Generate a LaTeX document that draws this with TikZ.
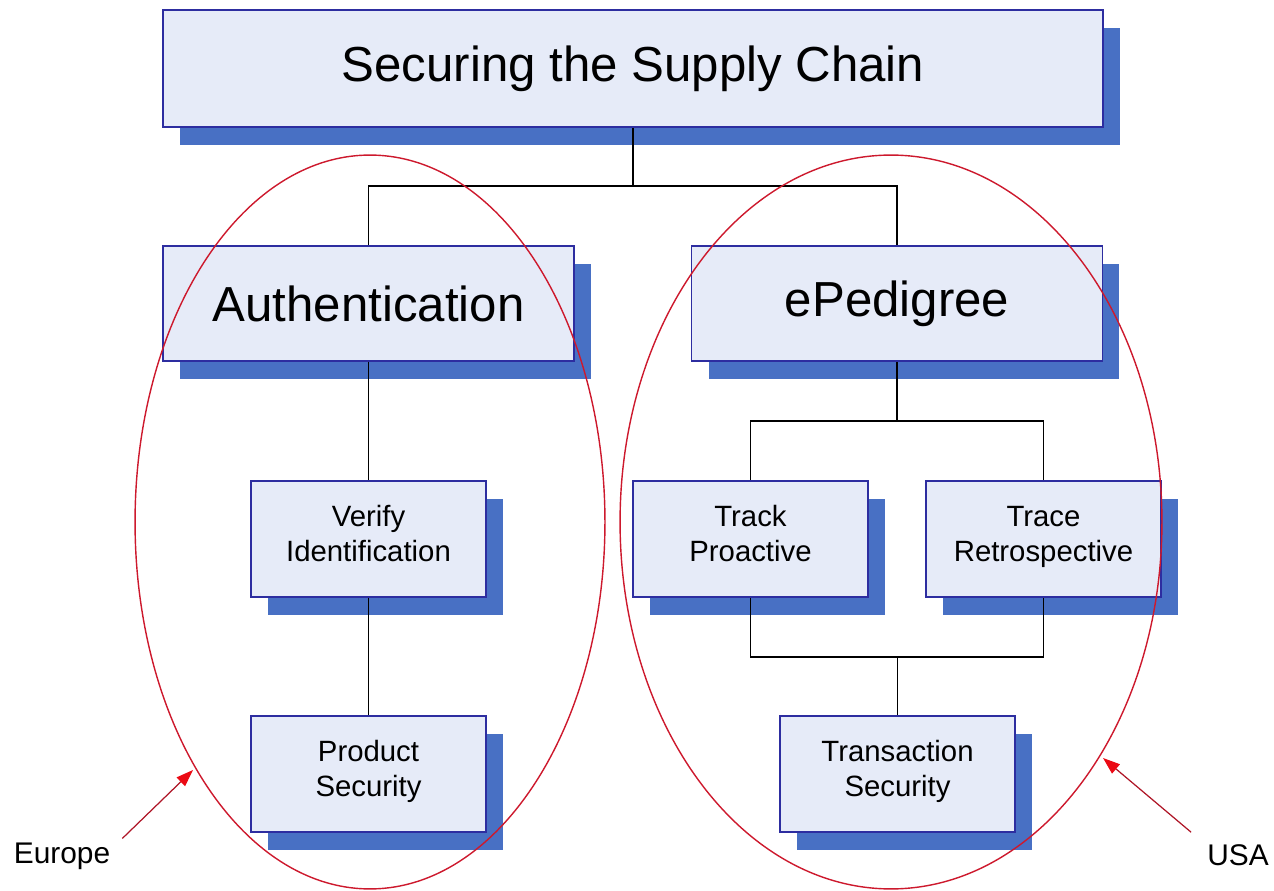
\documentclass[tikz,border=0pt]{standalone}
\usepackage{fontspec}
\setmainfont{Liberation Sans}
\usetikzlibrary{arrows.meta,shadows}

\definecolor{boxfill}{RGB}{230,235,248}
\definecolor{boxline}{RGB}{45,45,160}
\definecolor{shadowblue}{RGB}{72,112,196}
\definecolor{ringred}{RGB}{205,25,45}
\definecolor{tipred}{RGB}{235,10,20}

\begin{document}
\begin{tikzpicture}[x=0.02cm,y=-0.02cm,
  box/.style={draw=boxline,line width=1pt,fill=boxfill,inner sep=0pt,align=center,
    general shadow={fill=shadowblue,shadow xshift=0.34cm,shadow yshift=-0.36cm}},
  bigbox/.style={box,minimum width=8.22cm,minimum height=2.3cm,font=\fontsize{28}{32}\selectfont},
  smallbox/.style={box,minimum width=4.7cm,minimum height=2.32cm,font=\fontsize{16.7}{20}\selectfont,
    execute at begin node=\strut,execute at end node=\strut},
  link/.style={line width=1.1pt},
  ring/.style={draw=ringred,line width=0.8pt},
  pointer/.style={draw=ringred!85!black,line width=0.7pt,
    -{Triangle[length=0.34cm,width=0.24cm,color=tipred]}},
  region/.style={font=\fontsize{17}{20}\selectfont}]
  \useasboundingbox (0,0) rectangle (1274,891);

  % boxes
  \node[box,minimum width=18.8cm,minimum height=2.34cm,font=\fontsize{28}{32}\selectfont] (top) at (633,68.5) {Securing the Supply Chain};
  \node[bigbox] (auth) at (368.5,303.5) {Authentication};
  \node[bigbox] (eped) at (897,303.5) {ePedigree};
  \node[smallbox] (verify) at (368.5,539) {Verify\\Identification};
  \node[smallbox] (prod) at (368.5,774) {Product\\Security};
  \node[smallbox] (track) at (750.5,539) {Track\\Proactive};
  \node[smallbox] (trace) at (1043.5,539) {Trace\\Retrospective};
  \node[smallbox] (trans) at (897.5,774) {Transaction\\Security};

  % connectors
  \coordinate (j1) at (633,186);
  \coordinate (j2) at (897,421);
  \coordinate (j3) at (897.5,657);
  \draw[link] (top.south) -- (j1) -| (auth.north);
  \draw[link] (j1) -| (eped.north);
  \draw[link] (auth) -- (verify);
  \draw[link] (verify) -- (prod);
  \draw[link] (eped.south) -- (j2) -| (track.north);
  \draw[link] (j2) -| (trace.north);
  \draw[link] (track.south) |- (j3) -| (trace.south);
  \draw[link] (j3) -- (trans.north);

  % regions
  \draw[ring] (370,522) ellipse [x radius=4.7cm,y radius=7.34cm];
  \draw[ring] (891,522) ellipse [x radius=5.42cm,y radius=7.34cm];
  \node[region] (eu) at (62,856) {Europe};
  \node[region] (usa) at (1238,855) {USA};
  \coordinate (eutip) at (193,770);
  \coordinate (usatip) at (1103,758);
  \draw[pointer] (eu.north east) ++(6,2) -- (eutip);
  \draw[pointer] (usa.north west) ++(-10,-6) -- (usatip);
\end{tikzpicture}
\end{document}
